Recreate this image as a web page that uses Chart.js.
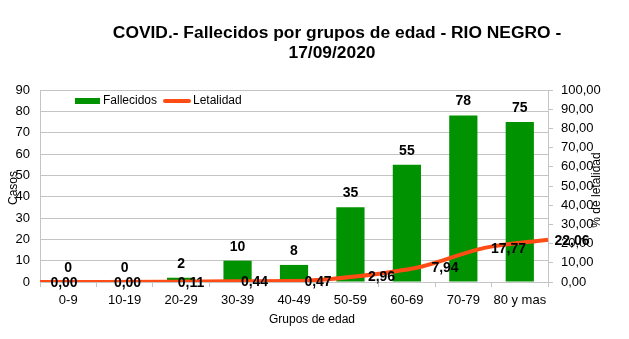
<!DOCTYPE html>
<html>
<head>
<meta charset="utf-8">
<script src="https://cdn.jsdelivr.net/npm/chart.js@4"></script>
<style>
  html, body { margin: 0; padding: 0; background: #fff; }
  #wrap { width: 629px; height: 339px; }
</style>
</head>
<body>
<div id="wrap"><canvas id="myChart" width="629" height="339"></canvas></div>
<script>
// datos
const grupos = ['0-9', '10-19', '20-29', '30-39', '40-49', '50-59', '60-69', '70-79', '80 y mas'];
const fallecidos = [0, 0, 2, 10, 8, 35, 55, 78, 75];
const letalidad = [0.00, 0.00, 0.11, 0.44, 0.47, 2.96, 7.94, 17.77, 22.06];
const tituloLineas = ['COVID.- Fallecidos por grupos de edad - RIO NEGRO -', '17/09/2020'];

const VERDE = '#009200';
const NARANJA = '#ff4c14';
const GRIS = '#c4c4c4';
const FUENTE = '"Liberation Sans", Arial, sans-serif';

const fmt = v => v.toFixed(2).replace('.', ',');

// textos extra: titulo, leyenda, titulos de ejes y etiquetas de datos
const extras = {
    id: 'extras',
    afterDatasetsDraw(chart) {
        const ctx = chart.ctx;
        ctx.save();
        ctx.fillStyle = '#000';

        // etiquetas de barras
        ctx.font = 'bold 14px ' + FUENTE;
        ctx.textAlign = 'center';
        ctx.textBaseline = 'middle';
        chart.getDatasetMeta(0).data.forEach((bar, i) => {
            ctx.fillText(String(fallecidos[i]), bar.x, bar.y - 14);
        });

        // etiquetas de la linea
        chart.getDatasetMeta(1).data.forEach((pt, i) => {
            ctx.fillText(fmt(letalidad[i]), pt.x + 24, pt.y + 1);
        });

        // titulo
        ctx.font = 'bold 17.4px ' + FUENTE;
        ctx.fillText(tituloLineas[0], 337, 33);
        ctx.fillText(tituloLineas[1], 332, 53);

        // leyenda
        ctx.font = '12px ' + FUENTE;
        ctx.textAlign = 'left';
        ctx.fillStyle = VERDE;
        ctx.fillRect(75, 98, 25, 6);
        ctx.fillStyle = '#000';
        ctx.fillText('Fallecidos', 103, 101);
        ctx.strokeStyle = NARANJA;
        ctx.lineWidth = 4;
        ctx.lineCap = 'round';
        ctx.beginPath();
        ctx.moveTo(165, 101);
        ctx.lineTo(189, 101);
        ctx.stroke();
        ctx.fillText('Letalidad', 193, 101);

        // titulos de ejes
        ctx.textAlign = 'center';
        ctx.fillText('Grupos de edad', 312, 320);
        ctx.save();
        ctx.translate(14, 188);
        ctx.rotate(-Math.PI / 2);
        ctx.fillText('Casos', 0, 0);
        ctx.restore();
        ctx.save();
        ctx.translate(597, 190);
        ctx.rotate(-Math.PI / 2);
        ctx.fillText('% de letalidad', 0, 0);
        ctx.restore();

        ctx.restore();
    }
};

new Chart(document.getElementById('myChart'), {
    data: {
        labels: grupos,
        datasets: [
            {
                type: 'bar',
                label: 'Fallecidos',
                data: fallecidos,
                backgroundColor: VERDE,
                grouped: false,
                barPercentage: 0.5,
                categoryPercentage: 1,
                xAxisID: 'x',
                yAxisID: 'y',
                order: 2
            },
            {
                type: 'line',
                label: 'Letalidad',
                data: letalidad,
                borderColor: NARANJA,
                borderWidth: 4,
                pointRadius: 0,
                cubicInterpolationMode: 'monotone',
                xAxisID: 'x2',
                yAxisID: 'y2',
                order: 1
            }
        ]
    },
    options: {
        responsive: false,
        animation: false,
        layout: { padding: { top: 90, left: 0, right: 0, bottom: 0 } },
        plugins: {
            legend: { display: false },
            title: { display: false },
            tooltip: { enabled: false }
        },
        scales: {
            x: {
                offset: true,
                afterFit(scale) { scale.height = 57; },
                grid: { offset: true, drawOnChartArea: false, tickLength: 5, color: GRIS },
                border: { color: GRIS },
                ticks: { color: '#000', font: { size: 13, family: FUENTE }, padding: 6, maxRotation: 0 }
            },
            x2: {
                type: 'category',
                labels: grupos,
                offset: false,
                display: false
            },
            y: {
                position: 'left',
                min: 0,
                max: 90,
                afterFit(scale) { scale.width = 40; },
                grid: { color: GRIS, drawTicks: false },
                border: { color: GRIS },
                ticks: { stepSize: 10, color: '#000', font: { size: 13, family: FUENTE }, padding: 10 }
            },
            y2: {
                position: 'right',
                min: 0,
                max: 100,
                afterFit(scale) { scale.width = 81; },
                grid: { drawOnChartArea: false, tickLength: 5, color: GRIS },
                border: { color: GRIS },
                ticks: { stepSize: 10, color: '#000', font: { size: 13, family: FUENTE }, padding: 8, callback: v => fmt(v) }
            }
        }
    },
    plugins: [extras]
});
</script>
</body>
</html>
